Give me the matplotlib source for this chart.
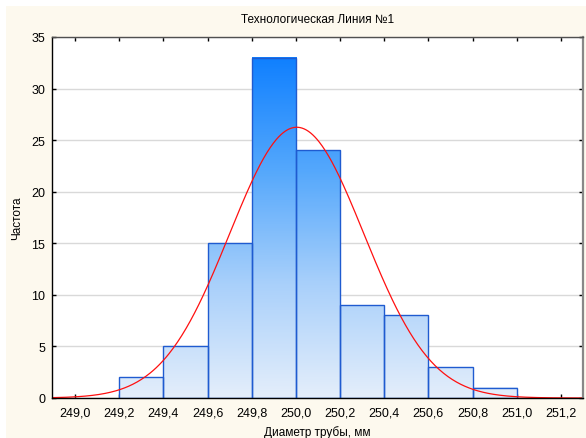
import numpy as np
import matplotlib
matplotlib.use("Agg")
import matplotlib.pyplot as plt
from matplotlib.colors import LinearSegmentedColormap
from matplotlib.patches import Rectangle

plt.rcParams['font.family'] = ['Liberation Sans', 'DejaVu Sans']

# Data
bin_edges = [249.2, 249.4, 249.6, 249.8, 250.0, 250.2, 250.4, 250.6, 250.8, 251.0]
counts = [2, 5, 15, 33, 24, 9, 8, 3, 1]
x_ticks = [249.0, 249.2, 249.4, 249.6, 249.8, 250.0, 250.2, 250.4, 250.6, 250.8, 251.0, 251.2]
y_ticks = [0, 5, 10, 15, 20, 25, 30, 35]
title = "Технологическая Линия №1"
xlabel = "Диаметр трубы, мм"
ylabel = "Частота"

fig = plt.figure(figsize=(5.86, 4.39), dpi=100)
fig.patch.set_facecolor('white')
fig.patches.append(Rectangle((6/586, 0), 1 - 6/586, 1 - 7/439, transform=fig.transFigure,
                             facecolor='#fdf9ee', edgecolor='none', zorder=-10))

ax = fig.add_axes([52/586, 40/439, (583-52)/586, (399-38)/439])
ax.set_facecolor('white')

ax.yaxis.grid(True, color='#d9d9d9', linewidth=1.0, zorder=0)
ax.set_axisbelow(True)

cmap = LinearSegmentedColormap.from_list('g', ['#e4eefb', '#a9d0fa', '#55a8fc', '#1080ff'])
vmax = max(counts)
edges = np.array(bin_edges)
widths = np.diff(edges)
for x0, w, h in zip(edges[:-1], widths, counts):
    grad = np.linspace(0, h, 200).reshape(-1, 1)
    ax.imshow(grad, extent=(x0, x0 + w, 0, h), origin='lower', aspect='auto',
              cmap=cmap, vmin=0, vmax=vmax, zorder=2, interpolation='bilinear')
    ax.add_patch(Rectangle((x0, 0), w, h, facecolor='none', edgecolor='#1f5bd0',
                           linewidth=1.0, zorder=3))
ax.set_xlim(248.896, 251.30)
ax.set_ylim(0, 35)

# Fitted normal curve from the histogram data
centers = (edges[:-1] + edges[1:]) / 2
cnt = np.array(counts, dtype=float)
n = cnt.sum()
mu = (centers * cnt).sum() / n
sigma = np.sqrt(((centers - mu) ** 2 * cnt).sum() / n)
xs = np.linspace(248.896, 251.30, 500)
ys = n * widths[0] / (sigma * np.sqrt(2 * np.pi)) * np.exp(-0.5 * ((xs - mu) / sigma) ** 2)
ax.plot(xs, ys, color='#ff1010', linewidth=0.9, zorder=4)

ax.set_xticks(x_ticks)
ax.set_xticklabels([f"{v:.1f}".replace('.', ',') for v in x_ticks])
ax.set_yticks(y_ticks)
ax.tick_params(direction='in', length=3, width=1, labelsize=9, colors='black',
               top=True, right=True, pad=5)
ax.tick_params(axis='x', pad=6)

ax.spines['left'].set_color('black')
ax.spines['bottom'].set_color('black')
ax.spines['top'].set_color('#505050')
ax.spines['right'].set_color('#888888')
ax.spines['right'].set_linewidth(1.6)
for s in ['left', 'bottom', 'top']:
    ax.spines[s].set_linewidth(1.0)
for s in ax.spines.values():
    s.set_zorder(5)

fig.text(317.5/586, 1 - 20/439, title, ha='center', va='center', fontsize=8.5)
fig.text(317.5/586, 1 - 433/439, xlabel, ha='center', va='center', fontsize=8.5)
fig.text(17/586, 1 - 218/439, ylabel, ha='center', va='center', rotation=90, fontsize=8.5)

fig.savefig('out.png', dpi=100, facecolor=fig.get_facecolor())
